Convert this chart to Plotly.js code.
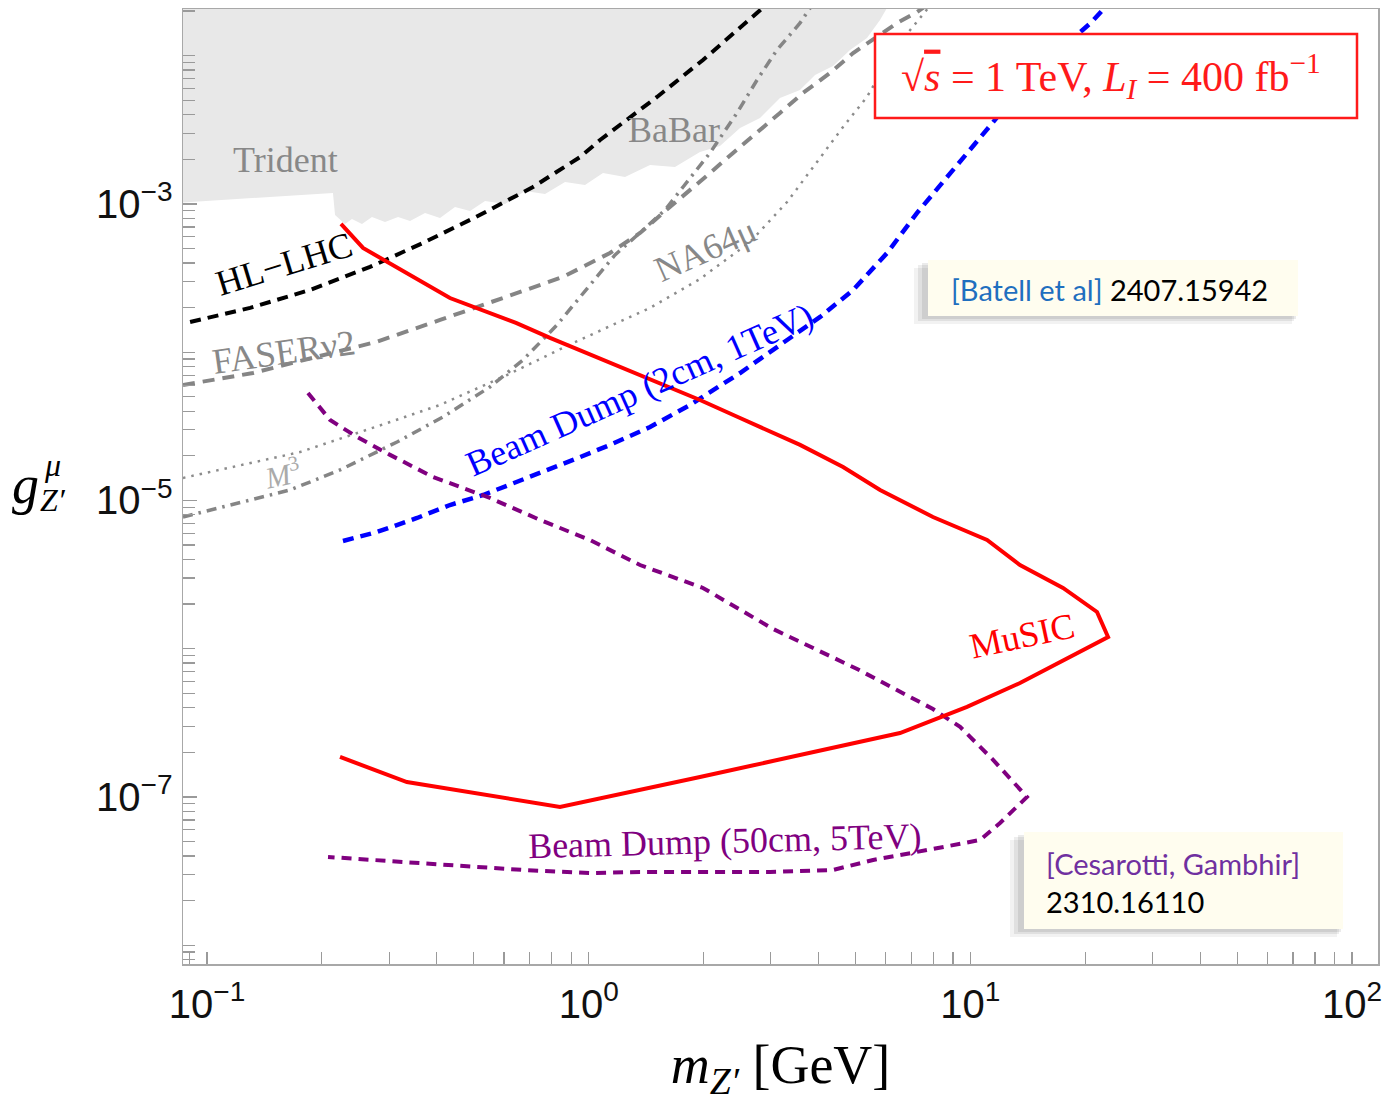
<!DOCTYPE html>
<html>
<head>
<meta charset="utf-8">
<script src="https://cdn.plot.ly/plotly-3.0.1.min.js"></script>
<style>html,body{margin:0;padding:0;background:#fff;}</style>
</head>
<body>
<div id="chart" style="width:1395px;height:1102px;"></div>
<script>
// ---------------- DATA (m_Z' in GeV, g_Z'^mu) ----------------
// Excluded region (Trident + BaBar), polygon boundary
const excludedMass = [0.08, 0.2138, 0.2165, 0.2299, 0.2398, 0.2547, 0.2705, 0.2927, 0.3166, 0.3403, 0.3726, 0.4078, 0.4464, 0.4887, 0.5351, 0.6037, 0.681, 0.7686, 0.867, 0.978, 1.090, 1.245, 1.448, 1.683, 1.957, 2.208, 2.492, 2.811, 3.171, 3.578, 3.917, 4.368, 4.839, 5.360, 5.798, 6.048, 6.2, 0.08];
const excludedCoupling = [1.01e-3, 1.186e-3, 8.43e-4, 7.33e-4, 7.92e-4, 7.33e-4, 8.17e-4, 7.56e-4, 8.17e-4, 7.68e-4, 8.70e-4, 8.04e-4, 9.54e-4, 8.97e-4, 1.047e-3, 1.0e-3, 1.224e-3, 1.168e-3, 1.407e-3, 1.344e-3, 1.618e-3, 1.521e-3, 1.833e-3, 1.776e-3, 2.243e-3, 2.461e-3, 3.256e-3, 3.802e-3, 5.188e-3, 5.875e-3, 7.418e-3, 8.53e-3, 1.094e-2, 1.317e-2, 1.742e-2, 2.10e-2, 0.05, 0.05];

// HL-LHC
const hllhcMass = [0.0903, 0.1297, 0.1862, 0.2674, 0.368, 0.5068, 0.7146, 0.949, 1.071, 1.51, 1.993, 2.778, 3.02];
const hllhcCoupling = [1.60e-4, 1.99e-4, 2.63e-4, 3.76e-4, 5.46e-4, 8.17e-4, 1.302e-3, 2.07e-3, 2.70e-3, 5.27e-3, 9.36e-3, 1.97e-2, 2.38e-2];

// FASERnu2
const faserMass = [0.0865, 0.1320, 0.1930, 0.2772, 0.408, 0.5965, 0.8565, 1.137, 1.363, 1.566, 1.81, 2.079, 2.389, 2.761, 3.171, 3.645, 4.29, 4.93, 5.69, 6.43, 7.25, 7.84];
const faserCoupling = [6.01e-5, 7.24e-5, 9.29e-5, 1.172e-4, 1.65e-4, 2.32e-4, 3.22e-4, 4.67e-4, 6.37e-4, 8.70e-4, 1.186e-3, 1.618e-3, 2.21e-3, 3.01e-3, 4.11e-3, 5.61e-3, 7.65e-3, 1.043e-2, 1.338e-2, 1.663e-2, 1.97e-2, 2.27e-2];

// NA64mu
const na64Mass = [0.0865, 0.1297, 0.1752, 0.3017, 0.408, 0.611, 0.910, 1.448, 1.957, 2.647, 3.31, 3.965, 4.64, 5.36, 6.05, 6.82, 7.84];
const na64Coupling = [1.419e-5, 1.79e-5, 2.12e-5, 3.38e-5, 4.41e-5, 7.02e-5, 1.154e-4, 1.99e-4, 3.12e-4, 5.54e-4, 1.031e-3, 1.92e-3, 3.31e-3, 5.27e-3, 9.07e-3, 1.402e-2, 2.17e-2];

// M^3
const m3Mass = [0.0865, 0.1149, 0.165, 0.2231, 0.3147, 0.4152, 0.551, 0.673, 0.826, 1.008, 1.172, 1.388, 1.585, 1.767, 2.079, 2.447, 2.761, 3.114, 3.58, 3.85];
const m3Coupling = [7.74e-6, 9.32e-6, 1.177e-5, 1.606e-5, 2.48e-5, 3.66e-5, 5.83e-5, 8.87e-5, 1.527e-4, 2.84e-4, 4.53e-4, 6.68e-4, 9.11e-4, 1.302e-3, 2.21e-3, 4.11e-3, 6.86e-3, 1.094e-2, 1.663e-2, 2.20e-2];

// Beam Dump (2cm, 1TeV)
const bd2Mass = [0.2271, 0.2789, 0.355, 0.433, 0.529, 0.673, 0.910, 1.137, 1.448, 1.843, 2.492, 3.31, 4.04, 4.93, 6.05, 7.25, 8.85, 10.79, 13.49, 17.18, 20.8, 23.2];
const bd2Coupling = [5.33e-6, 6.13e-6, 7.62e-6, 9.32e-6, 1.089e-5, 1.375e-5, 1.876e-5, 2.37e-5, 3.13e-5, 4.41e-5, 7.24e-5, 1.209e-4, 1.729e-4, 2.63e-4, 4.67e-4, 8.70e-4, 1.618e-3, 3.01e-3, 5.87e-3, 1.094e-2, 1.689e-2, 2.30e-2];

// Beam Dump (50cm, 5TeV)
const bd50Mass = [0.1839, 0.2101, 0.2472, 0.3017, 0.391, 0.551, 0.746, 1.008, 1.363, 1.993, 3.04, 5.05, 7.98, 9.40, 11.47, 14.07, 11.96, 10.60, 7.98, 5.56, 4.37, 2.99, 1.363, 1.008, 0.673, 0.368, 0.2075];
const bd50Coupling = [5.31e-5, 3.49e-5, 2.68e-5, 2.03e-5, 1.44e-5, 1.04e-5, 7.39e-6, 5.41e-6, 3.67e-6, 2.57e-6, 1.36e-6, 7.30e-7, 3.92e-7, 2.97e-7, 1.78e-7, 1.0e-7, 6.68e-8, 5.13e-8, 4.46e-8, 3.76e-8, 3.22e-8, 3.12e-8, 3.12e-8, 3.07e-8, 3.22e-8, 3.59e-8, 3.94e-8];

// MuSIC
const musicMass = [0.2244, 0.2563, 0.433, 0.645, 0.792, 1.09, 1.363, 1.957, 2.492, 3.58, 4.64, 5.80, 7.98, 11.06, 13.49, 17.49, 21.47, 22.95, 13.49, 9.80, 6.54, 4.37, 1.957, 0.841, 0.334, 0.2231];
const musicCoupling = [7.33e-4, 5.05e-4, 2.32e-4, 1.575e-4, 1.248e-4, 8.87e-5, 7.02e-5, 4.76e-5, 3.60e-5, 2.37e-5, 1.683e-5, 1.177e-5, 7.74e-6, 5.41e-6, 3.67e-6, 2.57e-6, 1.77e-6, 1.20e-6, 5.87e-7, 4.05e-7, 2.70e-7, 2.14e-7, 1.364e-7, 8.56e-8, 1.262e-7, 1.862e-7];

// Tick labels
const xTickVals = [0.1, 1, 10, 100];
const xTickText = ['10<sup>\u22121</sup>', '10<sup>0</sup>', '10<sup>1</sup>', '10<sup>2</sup>'];
const yTickVals = [1e-7, 1e-5, 1e-3];
const yTickText = ['10<sup>\u22127</sup>', '10<sup>\u22125</sup>', '10<sup>\u22123</sup>'];
const yUnlabeledDecades = [1e-8, 1e-6, 1e-4, 1e-2];

// ---------------- LAYOUT HELPERS ----------------
const W = 1395, H = 1102;
const L = 183, R = 1378, T = 9, B = 964;
const px = x => (x - L) / (R - L);
const py = y => (B - y) / (B - T);

function minorTicks(e0, e1) {
  const v = [];
  for (let e = e0; e <= e1; e++) for (let k = 2; k <= 9; k++) v.push(k * Math.pow(10, e));
  return v;
}

const serif = 'Liberation Serif, Times New Roman, serif';
const sans = 'Liberation Sans, Arial, sans-serif';
const gill = 'Lato, Open Sans, sans-serif';

const grayLine = '#858585';

const traces = [
  {x: excludedMass, y: excludedCoupling, type: 'scatter', mode: 'lines', fill: 'toself',
   fillcolor: '#e8e8e8', line: {width: 0, color: '#e8e8e8'}, hoverinfo: 'skip', showlegend: false},
  {x: na64Mass, y: na64Coupling, type: 'scatter', mode: 'lines',
   line: {color: '#8c8c8c', width: 2.5, dash: '2.5px,6px'}, showlegend: false},
  {x: m3Mass, y: m3Coupling, type: 'scatter', mode: 'lines',
   line: {color: grayLine, width: 3.5, dash: '10px,6px,2.5px,6px'}, showlegend: false},
  {x: faserMass, y: faserCoupling, type: 'scatter', mode: 'lines',
   line: {color: grayLine, width: 4, dash: '12px,8px'}, showlegend: false},
  {x: hllhcMass, y: hllhcCoupling, type: 'scatter', mode: 'lines',
   line: {color: '#000000', width: 4, dash: '11px,7px'}, showlegend: false},
  {x: bd2Mass, y: bd2Coupling, type: 'scatter', mode: 'lines',
   line: {color: '#0000ff', width: 4.5, dash: '11px,7px'}, showlegend: false},
  {x: bd50Mass, y: bd50Coupling, type: 'scatter', mode: 'lines',
   line: {color: '#800080', width: 4, dash: '10px,7px'}, showlegend: false},
  {x: musicMass, y: musicCoupling, type: 'scatter', mode: 'lines',
   line: {color: '#ff0000', width: 4}, showlegend: false}
];

function rect(x0, y0, x1, y1, fill, line) {
  return {type: 'rect', xref: 'paper', yref: 'paper', layer: 'above',
          x0: px(x0), x1: px(x1), y0: py(y1), y1: py(y0),
          fillcolor: fill, line: line || {width: 0}};
}

const shapes = [
  // title box
  rect(875, 34, 1357, 118, '#ffffff', {color: '#ff1a1a', width: 2.5}),
  // citation box 1 (shadow + box)
  rect(914, 268, 1292, 324, 'rgba(0,0,0,0.05)'),
  rect(918, 265, 1294, 321, 'rgba(0,0,0,0.07)'),
  rect(922, 263, 1296, 319, 'rgba(0,0,0,0.08)'),
  rect(928, 260, 1298, 316, '#fffdef'),
  // citation box 2
  rect(1010, 840, 1337, 937, 'rgba(0,0,0,0.05)'),
  rect(1014, 837, 1339, 934, 'rgba(0,0,0,0.07)'),
  rect(1018, 835, 1341, 932, 'rgba(0,0,0,0.08)'),
  rect(1024, 832, 1343, 929, '#fffdef')
];

function ann(text, x, y, size, color, opts) {
  return Object.assign({text: text, xref: 'paper', yref: 'paper', x: px(x), y: py(y),
    xanchor: 'center', yanchor: 'middle', showarrow: false,
    font: {family: serif, size: size, color: color}}, opts || {});
}

const annotations = [
  ann('Trident', 285, 160, 36, '#888888'),
  ann('BaBar', 674, 130, 36, '#888888'),
  ann('HL\u2212LHC', 284, 264, 36, '#000000', {textangle: -17}),
  ann('FASER\u03bd2', 284, 352, 36, '#888888', {textangle: -8}),
  ann('NA64\u03bc', 705, 250, 36, '#888888', {textangle: -24}),
  ann('<i>M</i><sup>3</sup>', 282, 473, 30, '#aaaaaa', {textangle: -12}),
  ann('Beam Dump (2cm, 1TeV)', 639, 390, 36, '#0000ff', {textangle: -24}),
  ann('MuSIC', 1022, 636, 36, '#ff0000', {textangle: -12}),
  ann('Beam Dump (50cm, 5TeV)', 724, 841, 36, '#800080', {textangle: -1.5}),
  ann('\u221a<span style="text-decoration:overline"><i>s</i></span> = 1 TeV, <i>L</i><sub><i>I</i></sub> = 400 fb<sup>\u22121</sup>', 1111, 76, 42, '#ff1a1a'),
  ann('<span style="color:#1f6fbf">[Batell et al]</span> 2407.15942', 949, 289, 29, '#000000',
      {xanchor: 'left', font: {family: gill, size: 29, color: '#000000'}}),
  ann('<span style="color:#7030a0">[Cesarotti, Gambhir]</span><br>2310.16110', 1044, 882, 29, '#000000',
      {xanchor: 'left', align: 'left', font: {family: gill, size: 29, color: '#000000'}}),
  // y-axis title (horizontal, stacked super/subscript)
  ann('<i>g</i>', 25, 485, 54, '#000000'),
  ann('<i>\u03bc</i>', 52, 465, 32, '#000000'),
  ann('<i>Z\u2032</i>', 53, 500, 32, '#000000')
];

const axisCommon = {
  type: 'log', showgrid: false, zeroline: false,
  showline: true, mirror: true, linecolor: '#a8a8a8', linewidth: 1.5,
  ticks: 'inside', tickcolor: '#9a9a9a', tickwidth: 1.2,
  tickmode: 'array',
  tickfont: {family: sans, size: 40, color: '#111111'}
};

const layout = {
  width: W, height: H,
  margin: {l: L, r: W - R, t: T, b: H - B, pad: 0},
  paper_bgcolor: '#ffffff', plot_bgcolor: '#ffffff',
  showlegend: false,
  xaxis: Object.assign({}, axisCommon, {
    range: [-1.0629, 2.068], tickvals: xTickVals, ticktext: xTickText, ticklen: 12,
    ticklabelstandoff: 4,
    title: {text: '<i>m</i><sub><i>Z\u2032</i></sub> [GeV]', font: {family: serif, size: 54, color: '#000000'}, standoff: 28},
    minor: {tickmode: 'array', tickvals: minorTicks(-2, 2), ticks: 'inside', ticklen: 12,
            tickcolor: '#9a9a9a', tickwidth: 1.2, showgrid: false}
  }),
  yaxis: Object.assign({}, axisCommon, {
    range: [-8.1265, -1.685], tickvals: yTickVals, ticktext: yTickText, ticklen: 14,
    ticklabelstandoff: 1,
    minor: {tickmode: 'array', tickvals: minorTicks(-9, -2).concat(yUnlabeledDecades), ticks: 'inside', ticklen: 12,
            tickcolor: '#9a9a9a', tickwidth: 1.2, showgrid: false}
  }),
  shapes: shapes,
  annotations: annotations
};

Plotly.newPlot('chart', traces, layout, {displayModeBar: false, staticPlot: true});
</script>
</body>
</html>
